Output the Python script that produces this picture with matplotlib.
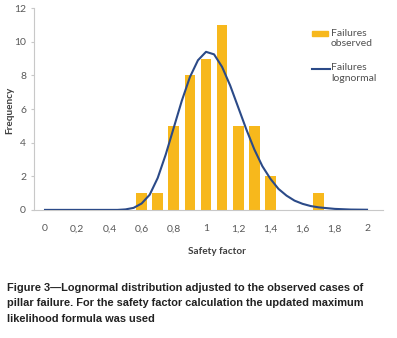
import numpy as np
import matplotlib
matplotlib.use("Agg")
import matplotlib.pyplot as plt
from matplotlib.patches import Rectangle
from matplotlib.lines import Line2D

# observed failures per safety-factor bin
sf_bins = [0.6, 0.7, 0.8, 0.9, 1.0, 1.1, 1.2, 1.3, 1.4, 1.7]
observed = [1, 1, 5, 8, 9, 11, 5, 5, 2, 1]

# fitted lognormal curve
curve_x = [0.0, 0.1, 0.2, 0.3, 0.4, 0.45, 0.5, 0.55, 0.6, 0.65, 0.7, 0.75, 0.8, 0.85,
           0.9, 0.95, 1.0, 1.05, 1.1, 1.15, 1.2, 1.25, 1.3, 1.35, 1.4, 1.45, 1.5,
           1.55, 1.6, 1.65, 1.7, 1.8, 1.9, 2.0]
curve_y = [0.0, 0.0, 0.0, 0.0, 0.0, 0.0, 0.03, 0.12, 0.38, 0.9, 1.9, 3.3, 4.9, 6.5,
           7.9, 8.9, 9.4, 9.25, 8.5, 7.4, 6.1, 4.8, 3.6, 2.6, 1.85, 1.25, 0.85,
           0.55, 0.36, 0.23, 0.15, 0.06, 0.02, 0.01]

xticks = [0, 0.2, 0.4, 0.6, 0.8, 1.0, 1.2, 1.4, 1.6, 1.8, 2.0]
xtick_labels = ["0", "0,2", "0,4", "0,6", "0,8", "1", "1,2", "1,4", "1,6", "1,8", "2"]
yticks = [0, 2, 4, 6, 8, 10, 12]

legend_labels = ["Failures\nobserved", "Failures\nlognormal"]

caption = ("Figure 3\u2014Lognormal distribution adjusted to the observed cases of\n"
           "pillar failure. For the safety factor calculation the updated maximum\n"
           "likelihood formula was used")

bar_col = "#F7B81C"
line_col = "#2B4A88"
grey_txt = "#595959"
spine_col = "#C8C8C8"

plt.rcParams["font.family"] = ["Lato", "DejaVu Sans"]

W, H = 397, 338
fig = plt.figure(figsize=(W / 100, H / 100), dpi=100)
ax = fig.add_axes([0.085, 0.379, 0.88, 0.597])

ax.bar(sf_bins, observed, width=0.066, color=bar_col, zorder=2)
ax.plot(curve_x, curve_y, color=line_col, lw=1.5, solid_joinstyle="round", zorder=3)

ax.set_xlim(-0.07, 2.1)
ax.set_ylim(0, 12)
ax.set_xticks(xticks)
ax.set_xticklabels(xtick_labels)
ax.set_yticks(yticks)

for s in ["top", "right"]:
    ax.spines[s].set_visible(False)
for s in ["left", "bottom"]:
    ax.spines[s].set_color(spine_col)
    ax.spines[s].set_linewidth(0.8)

ax.tick_params(axis="x", length=0, pad=10.5, labelsize=7.5, labelcolor=grey_txt)
ax.tick_params(axis="y", length=2.5, width=0.8, color=spine_col, pad=3,
               labelsize=7.5, labelcolor=grey_txt)

fig.text(10 / W, 1 - 110 / H, "Frequency", rotation=90, ha="center", va="center",
         fontsize=7.2, fontweight="bold", color="#404040")
fig.text(217 / W, 1 - 252 / H, "Safety factor", ha="center", va="center",
         fontsize=7.2, fontweight="bold", color="#404040")

# legend: key sits level with the first line of each label
tf = fig.transFigure
fig.patches.append(Rectangle((312 / W, 1 - 36 / H), 16 / W, 5 / H, color=bar_col,
                             transform=tf, figure=fig))
fig.lines.append(Line2D([312 / W, 330 / W], [1 - 69 / H, 1 - 69 / H], color=line_col,
                        lw=1.5, transform=tf, figure=fig))
for ytop, lab in zip([28.5, 63.5], legend_labels):
    fig.text(331 / W, 1 - ytop / H, lab, ha="left", va="top", fontsize=7.5,
             color="#505050", linespacing=1.2)

fig.text(7 / W, 1 - 283 / H, caption, ha="left", va="top", fontsize=7.9,
         fontweight="bold", color="#222222", linespacing=1.68,
         family=["Liberation Sans", "DejaVu Sans"])

fig.savefig("out.png", dpi=100)
